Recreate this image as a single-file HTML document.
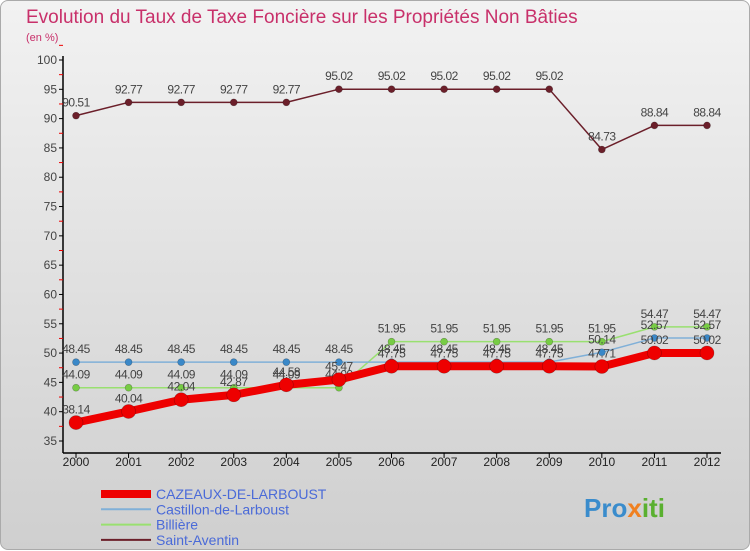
<!DOCTYPE html>
<html><head><meta charset="utf-8"><style>
body{margin:0;width:750px;height:550px;overflow:hidden;font-family:"Liberation Sans",sans-serif}
#wrap{position:absolute;left:0;top:0;width:748px;height:548px;border:1px solid #aaa;border-radius:8px;background:linear-gradient(#f2f2f2,#cfcfcf)}
</style></head><body>
<div id="wrap">
<svg width="750" height="550" style="position:absolute;left:0;top:0">
<text x="25" y="22" font-size="19" fill="#c8306a">Evolution du Taux de Taxe Foncière sur les Propriétés Non Bâties</text>
<text x="25" y="40" font-size="11" fill="#c8306a">(en %)</text>
<g id="axes"></g><g id="series"></g><g id="legend"></g>
<text x="583" y="516" font-size="26" font-weight="bold" fill="#3a8ccc">Pro<tspan fill="#f08020">x</tspan><tspan fill="#5ab030">iti</tspan></text>
</svg></div>
<script>
const years=[2000,2001,2002,2003,2004,2005,2006,2007,2008,2009,2010,2011,2012];
const yTicks=[35,40,45,50,55,60,65,70,75,80,85,90,95,100];
const cazeaux=[38.14,40.04,42.04,42.87,44.58,45.47,47.75,47.75,47.75,47.75,47.71,50.02,50.02];
const castillon=[48.45,48.45,48.45,48.45,48.45,48.45,48.45,48.45,48.45,48.45,50.14,52.57,52.57];
const billiere=[44.09,44.09,44.09,44.09,44.09,44.09,51.95,51.95,51.95,51.95,51.95,54.47,54.47];
const aventin=[90.51,92.77,92.77,92.77,92.77,95.02,95.02,95.02,95.02,95.02,84.73,88.84,88.84];
const NS="http://www.w3.org/2000/svg";
const X=i=>75+i*(706-75)/(years.length-1);
const Y=v=>440-(v-35)*(440-59)/65;
function mk(t,a,p){const e=document.createElementNS(NS,t);for(const k in a)e.setAttribute(k,a[k]);p.appendChild(e);return e;}
const ax=document.getElementById('axes');
let yl=mk('line',{x1:62,y1:55,x2:62,y2:452,stroke:'#000','stroke-width':1.5},ax);


let xl=mk('line',{x1:62,y1:452,x2:720,y2:452,stroke:'#000','stroke-width':1.5},ax);


yTicks.forEach(v=>{
 mk('line',{x1:58,x2:62,y1:Y(v),y2:Y(v),stroke:'#000'},ax);
 mk('line',{x1:58,x2:62,y1:Y(v+2.5),y2:Y(v+2.5),stroke:'#e00'},ax);
 const t=mk('text',{x:56,y:Y(v)+4,'font-size':12,'text-anchor':'end',fill:'#444'},ax);t.textContent=v;
 
 
});
years.forEach((y,i)=>{
 mk('line',{x1:X(i),x2:X(i),y1:452,y2:457,stroke:'#000'},ax);
 const t=mk('text',{x:X(i),y:465,'font-size':12,'text-anchor':'middle',fill:'#222'},ax);t.textContent=y;
 
 
});
const sg=document.getElementById('series');
function draw(data,color,w,r,dot,name){
 const g=mk('g',{},sg);
 
 
 mk('polyline',{points:data.map((v,i)=>X(i)+','+Y(v)).join(' '),fill:'none',stroke:color,'stroke-width':w,'stroke-linejoin':'round'},g);
 data.forEach((v,i)=>{
  const c=mk('circle',{cx:X(i),cy:Y(v),r:r,fill:dot,stroke:'rgba(0,0,0,0.3)','stroke-width':0.6},g);
  
  
  const t=mk('text',{x:X(i),y:Y(v)-9,'font-size':12,'text-anchor':'middle',fill:'#444','letter-spacing':'-0.5'},g);t.textContent=v.toFixed(2).replace(/^(\d+)\.(\d+)$/,(m,a,b)=>a+'.'+b);
  
  
 });
}
draw(aventin,'#6b1f2a',1.5,3.5,'#6b1f2a','saint-aventin-series');
draw(billiere,'#99e070',1.5,3.5,'#77cc44','billiere-series');
draw(castillon,'#80b0d8',1.5,3.5,'#3a88c8','castillon-series');
draw(cazeaux,'#ee0000',8,7,'#ee0000','cazeaux-series');
const lg=document.getElementById('legend');
[['CAZEAUX-DE-LARBOUST','#ee0000',8],['Castillon-de-Larboust','#80b0d8',2],['Billière','#99e070',2],['Saint-Aventin','#6b1f2a',2]].forEach((d,i)=>{
 const y=493+i*15.3;
 const g=mk('g',{},lg);
 
 
 mk('line',{x1:100,x2:150,y1:y,y2:y,stroke:d[1],'stroke-width':d[2]},g);
 const t=mk('text',{x:155,y:y+5,'font-size':14,fill:'#4a6ad8'},g);t.textContent=d[0];
});
</script>
</body></html>
